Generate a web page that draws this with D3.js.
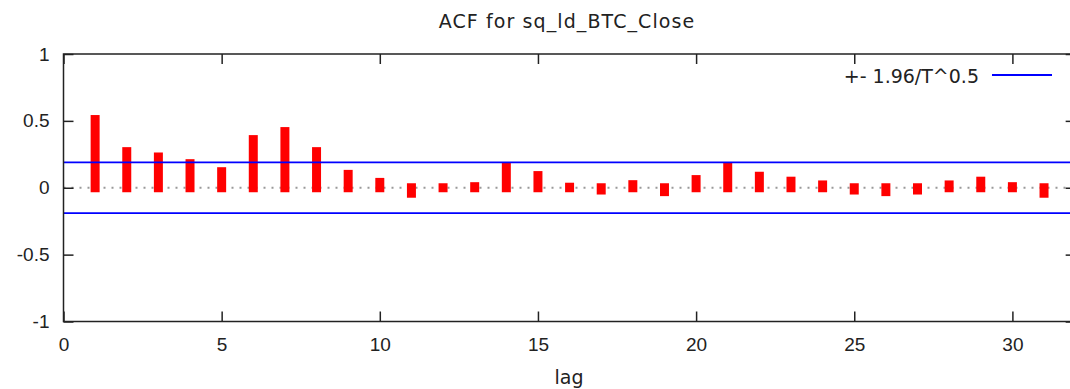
<!DOCTYPE html>
<html>
<head>
<meta charset="utf-8">
<script src="https://cdn.jsdelivr.net/npm/d3@7"></script>
<style>
  html, body { margin: 0; padding: 0; background: #fff; }
  svg { display: block; font-family: "DejaVu Sans", Verdana, sans-serif; }
  .axis text { font-size: 19px; fill: #222; }
  .axis line { stroke: #222; stroke-width: 1.5px; }
</style>
</head>
<body>
<svg id="chart" width="1070" height="389"></svg>
<script>
// ACF values for lags 1..31
const lags = d3.range(1, 32);
const acf = [
  0.51, 0.27, 0.23, 0.18, 0.12, 0.36, 0.42, 0.27, 0.10, 0.04,
  -0.041, 0.0, 0.008, 0.158, 0.091, 0.004, -0.017, 0.023, -0.029, 0.061,
  0.158, 0.086, 0.049, 0.021, -0.017, -0.029, -0.017, 0.021, 0.049, 0.008,
  -0.041,
];
const band = 0.19; // +- 1.96/T^0.5
const xTicks = [0, 5, 10, 15, 20, 25, 30];
const yTicks = [-1, -0.5, 0, 0.5, 1];
const title = "ACF for sq_ld_BTC_Close";
const legendLabel = "+- 1.96/T^0.5";
const xLabel = "lag";

const svg = d3.select("#chart");

// plot area (right border runs just past the window edge)
const plotLeft = 63.5, plotTop = 54, plotBottom = 321.5;
const x = d3.scaleLinear().domain([0, 32]).range([plotLeft, plotLeft + 32 * 31.63]);
const y = d3.scaleLinear().domain([-1, 1]).range([plotBottom, plotTop]);
const plotRight = x(32);

// title
svg.append("text")
  .attr("x", 567)
  .attr("y", 28)
  .attr("text-anchor", "middle")
  .style("font-size", "19px")
  .style("letter-spacing", "1.1px")
  .style("fill", "#222")
  .text(title);

// zero line, dotted grey
svg.append("line")
  .attr("x1", plotLeft).attr("x2", plotRight)
  .attr("y1", y(0)).attr("y2", y(0))
  .attr("stroke", "#999")
  .attr("stroke-width", 2)
  .attr("stroke-dasharray", "2,6");

// ACF impulses: thick red lines with square caps
svg.append("g")
  .selectAll("line")
  .data(lags)
  .join("line")
  .attr("x1", (d) => x(d)).attr("x2", (d) => x(d))
  .attr("y1", y(0))
  .attr("y2", (d, i) => y(acf[i]))
  .attr("stroke", "#ff0000")
  .attr("stroke-width", 9)
  .attr("stroke-linecap", "square");

// confidence band
svg.append("g")
  .selectAll("line")
  .data([band, -band])
  .join("line")
  .attr("x1", plotLeft).attr("x2", plotRight)
  .attr("y1", (d) => y(d)).attr("y2", (d) => y(d))
  .attr("stroke", "#0000ff")
  .attr("stroke-width", 1.8);

// axes with inward ticks, gnuplot style
const fmt = (d) => String(d);
svg.append("g")
  .attr("class", "axis")
  .attr("transform", `translate(${plotLeft},0)`)
  .call(d3.axisLeft(y).tickValues(yTicks).tickFormat(fmt).tickSizeInner(-10).tickSizeOuter(0).tickPadding(14))
  .call((g) => g.select(".domain").remove());
svg.append("g")
  .attr("class", "axis")
  .attr("transform", `translate(${plotRight},0)`)
  .call(d3.axisRight(y).tickValues(yTicks).tickFormat("").tickSizeInner(-10).tickSizeOuter(0))
  .call((g) => g.select(".domain").remove());
svg.append("g")
  .attr("class", "axis")
  .attr("transform", `translate(0,${plotBottom})`)
  .call(d3.axisBottom(x).tickValues(xTicks).tickFormat(fmt).tickSizeInner(-10).tickSizeOuter(0).tickPadding(16))
  .call((g) => g.select(".domain").remove());
svg.append("g")
  .attr("class", "axis")
  .attr("transform", `translate(0,${plotTop})`)
  .call(d3.axisTop(x).tickValues(xTicks).tickFormat("").tickSizeInner(-10).tickSizeOuter(0))
  .call((g) => g.select(".domain").remove());

// frame
svg.append("rect")
  .attr("x", plotLeft).attr("y", plotTop)
  .attr("width", plotRight - plotLeft).attr("height", plotBottom - plotTop)
  .attr("fill", "none")
  .attr("stroke", "#222")
  .attr("stroke-width", 1.5);

// x axis label
svg.append("text")
  .attr("x", 569)
  .attr("y", 384)
  .attr("text-anchor", "middle")
  .style("font-size", "19px")
  .style("fill", "#222")
  .text(xLabel);

// legend
svg.append("text")
  .attr("x", 979)
  .attr("y", 83)
  .attr("text-anchor", "end")
  .style("font-size", "19px")
  .style("fill", "#222")
  .text(legendLabel);
svg.append("line")
  .attr("x1", 992).attr("x2", 1052)
  .attr("y1", 75).attr("y2", 75)
  .attr("stroke", "#0000ff")
  .attr("stroke-width", 1.8);
</script>
</body>
</html>
